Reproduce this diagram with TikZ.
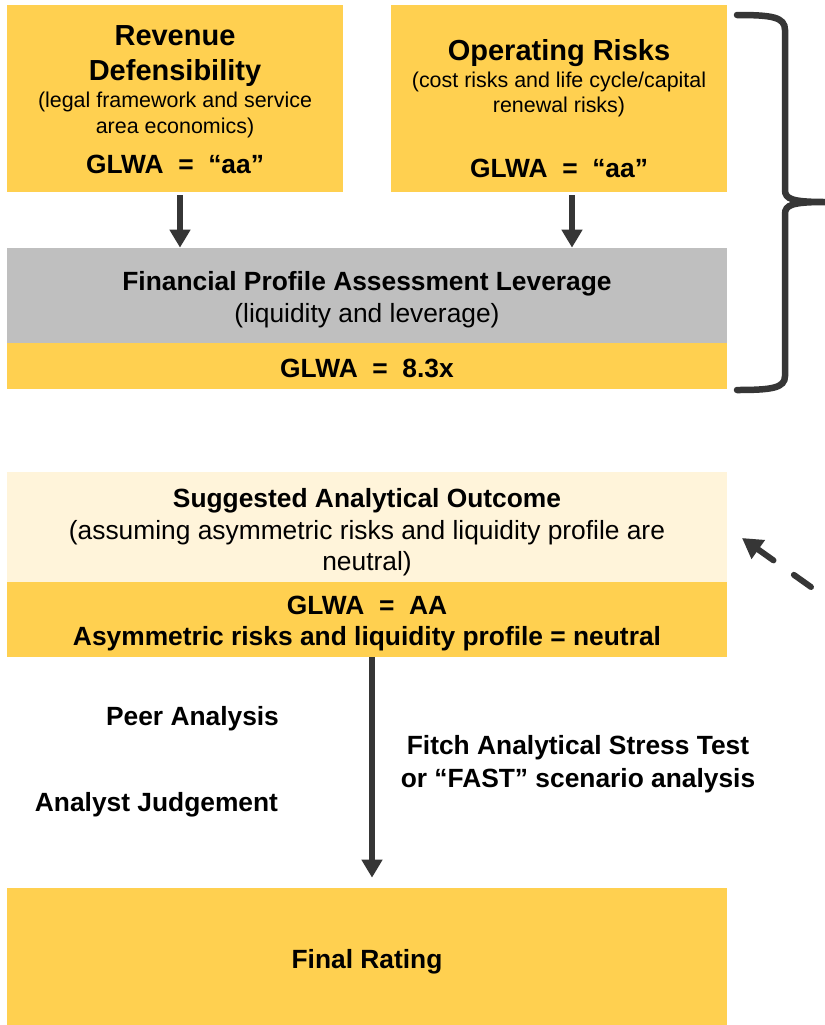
\documentclass[tikz,border=0pt]{standalone}
\usepackage{fontspec}
\setmainfont{Liberation Sans}
\usepackage{tikz}
\usetikzlibrary{shapes,arrows,arrows.meta,positioning,calc}

\definecolor{glwayellow}{HTML}{FFD050}
\definecolor{glwalight}{HTML}{FFF4DA}
\definecolor{glwagray}{HTML}{BFBFBF}
\definecolor{glwadark}{HTML}{363636}

\tikzset{
  box/.style={fill=glwayellow, inner sep=0pt},
  head/.style={anchor=base, inner sep=0pt, font=\fontsize{16.5}{19}\selectfont\bfseries},
  bold/.style={anchor=base, inner sep=0pt, font=\fontsize{15}{18}\selectfont\bfseries},
  plain/.style={anchor=base, inner sep=0pt, font=\fontsize{15}{18}\selectfont},
  small/.style={anchor=base, inner sep=0pt, font=\fontsize{12.2}{15}\selectfont},
  arr/.style={draw=glwadark, line width=0.12cm, -{Triangle[width=0.4cm,length=0.36cm]}},
}

\begin{document}
\begin{tikzpicture}[x=0.02cm, y=-0.02cm]
\useasboundingbox (0,0) rectangle (825,1025);
% boxes
\node (rev) [box, minimum width=6.72cm, minimum height=3.74cm] at (175,98.5) {};
\node (ops) [box, minimum width=6.72cm, minimum height=3.74cm] at (559,98.5) {};
\node (fin) [box, fill=glwagray, minimum width=14.4cm, minimum height=1.9cm] at (367,295.5) {};
\node (finv) [box, minimum width=14.4cm, minimum height=0.92cm] at (367,366) {};
\node (sug) [box, fill=glwalight, minimum width=14.4cm, minimum height=2.2cm] at (367,527) {};
\node (sugv) [box, minimum width=14.4cm, minimum height=1.5cm] at (367,619.5) {};
\node (final) [box, minimum width=14.4cm, minimum height=2.74cm] at (367,956.5) {};
% texts
\node (rev1) [head] at (175,45) {Revenue};
\node (rev2) [head] at (175,80) {Defensibility};
\node (rev3) [small] at (175,107) {(legal framework and service};
\node (rev4) [small] at (175,133) {area economics)};
\node (rev5) [bold] at (175,173) {GLWA\ \ =\ \ “aa”};
\node (ops1) [head] at (559,60) {Operating Risks};
\node (ops2) [small] at (559,87) {(cost risks and life cycle/capital};
\node (ops3) [small] at (559,112) {renewal risks)};
\node (ops4) [bold] at (559,177) {GLWA\ \ =\ \ “aa”};
\node (fin1) [bold] at (367,290) {Financial Profile Assessment Leverage};
\node (fin2) [plain] at (367,322) {(liquidity and leverage)};
\node (finv1) [bold] at (367,377) {GLWA\ \ =\ \ 8.3x};
\node (sug1) [bold] at (367,507) {Suggested Analytical Outcome};
\node (sug2) [plain] at (367,539) {(assuming asymmetric risks and liquidity profile are};
\node (sug3) [plain] at (367,570) {neutral)};
\node (sugv1) [bold] at (367,614) {GLWA\ \ =\ \ AA};
\node (sugv2) [bold] at (367,645) {Asymmetric risks and liquidity profile = neutral};
\node (peer) [bold] at (192.5,725) {Peer Analysis};
\node (judge) [bold] at (156.5,811) {Analyst Judgement};
\node (fast1) [bold] at (578,754) {Fitch Analytical Stress Test};
\node (fast2) [bold] at (578,787) {or “FAST” scenario analysis};
\node (final1) [bold] at (367,968) {Final Rating};
% arrows
\draw[arr, shorten <=0.06cm] ([xshift=0.1cm]rev.south) -- ([xshift=0.1cm]rev.south |- fin.north);
\draw[arr, shorten <=0.06cm] ([xshift=0.26cm]ops.south) -- ([xshift=0.26cm]ops.south |- fin.north);
\draw[arr, shorten >=0.2cm] ([xshift=0.1cm]sugv.south) -- ([xshift=0.1cm]sugv.south |- final.north);
% brace
\draw[glwadark, line width=0.13cm, line cap=round]
  (737,15) .. controls (772,15) and (785,17) .. (785,30) -- (785,190)
  .. controls (785,199) and (792,202) .. (825,202)
  .. controls (792,202) and (785,205) .. (785,214) -- (785,376)
  .. controls (785,388) and (772,390) .. (737,390);
% dashed pointer
\coordinate (dashtail) at (811,587);
\coordinate (dashtip) at (742,538);
\draw[glwadark, line width=0.12cm, line cap=round, dash pattern=on 0.42cm off 0.5cm,
  -{Triangle[width=0.44cm,length=0.4cm,sep=0pt]}] (dashtail) -- (dashtip);
\end{tikzpicture}
\end{document}
